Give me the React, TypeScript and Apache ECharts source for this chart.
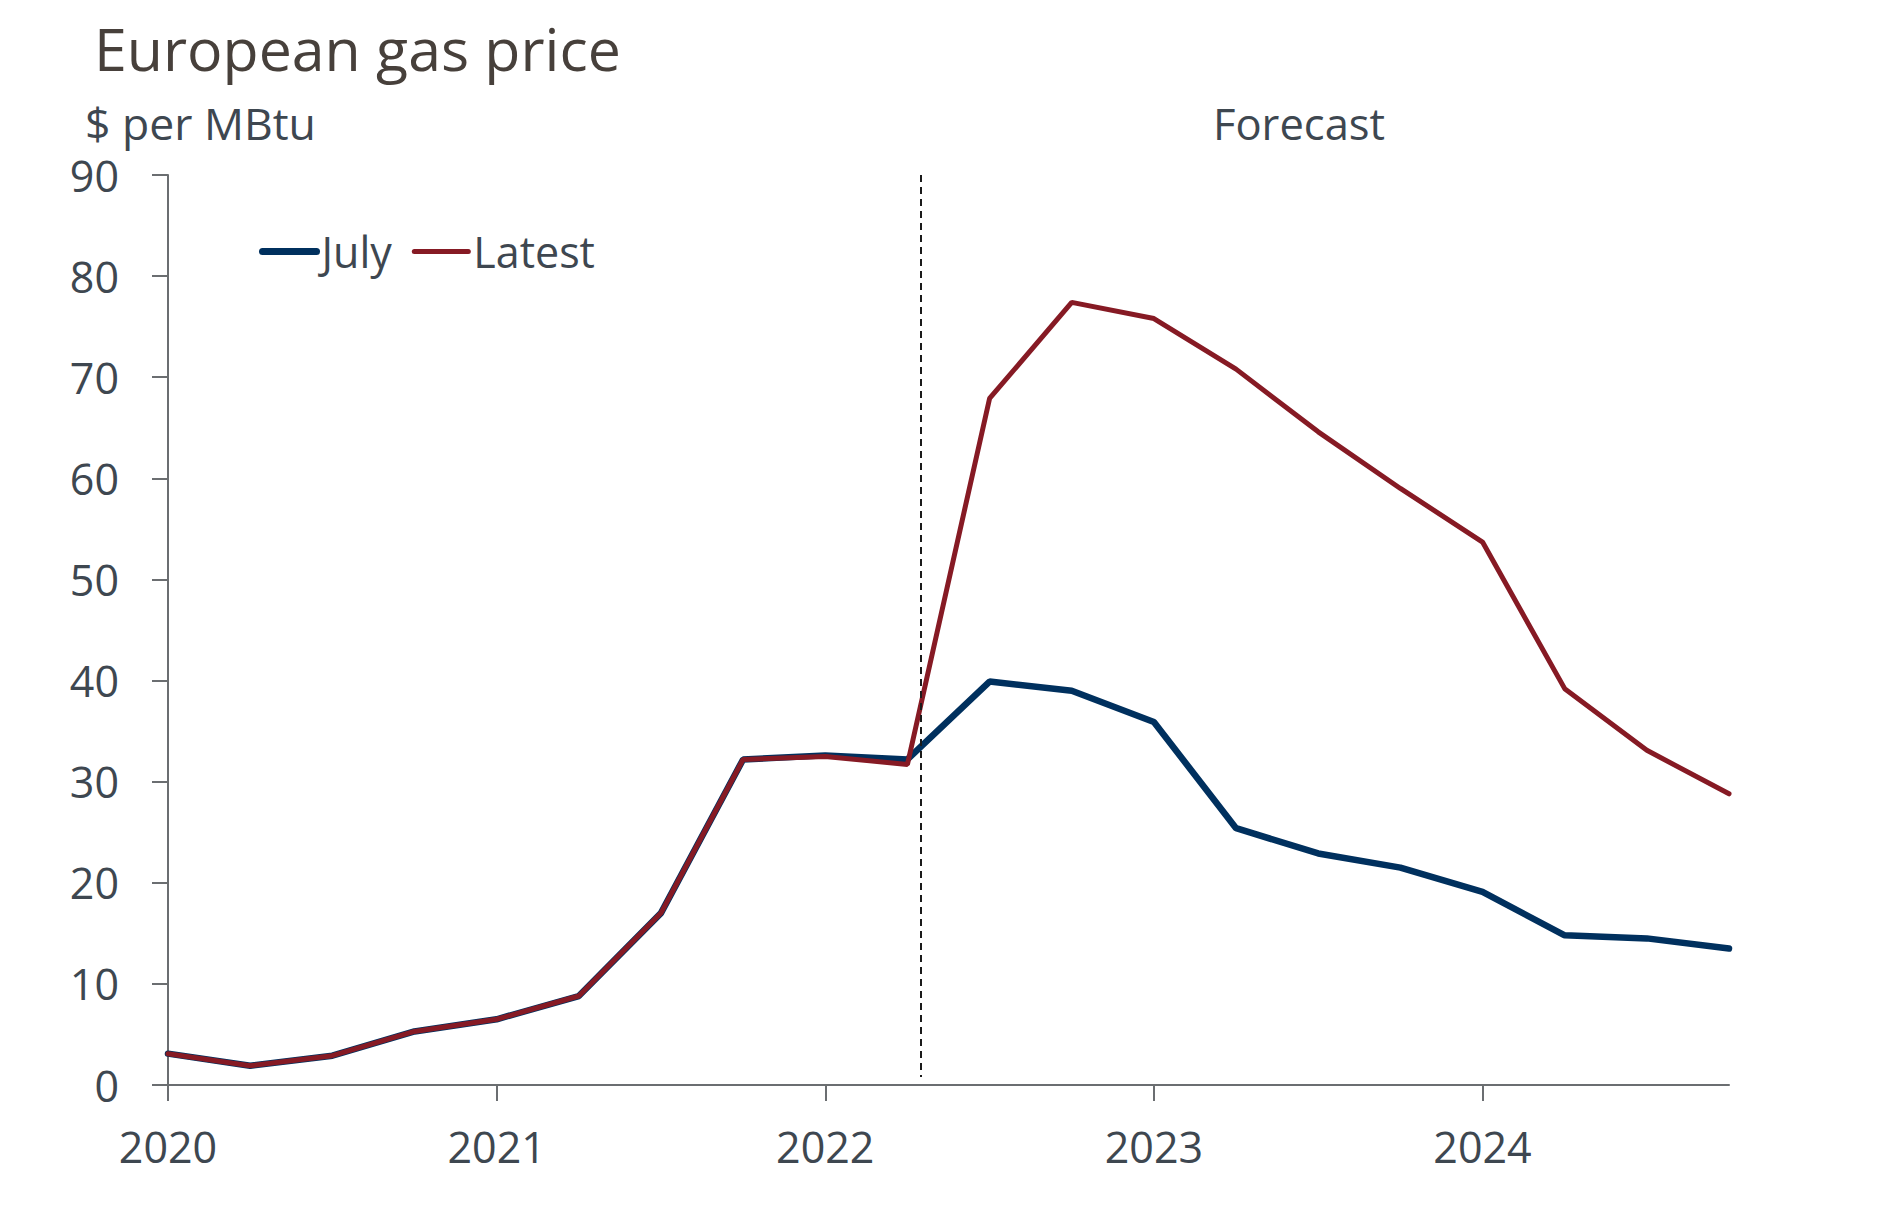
import React, { useEffect, useRef } from "react";
import * as echarts from "echarts";

const quarters = [
  "2020Q1", "2020Q2", "2020Q3", "2020Q4",
  "2021Q1", "2021Q2", "2021Q3", "2021Q4",
  "2022Q1", "2022Q2", "2022Q3", "2022Q4",
  "2023Q1", "2023Q2", "2023Q3", "2023Q4",
  "2024Q1", "2024Q2", "2024Q3", "2024Q4",
];
const july = [3.1, 1.9, 2.9, 5.3, 6.5, 8.8, 17.0, 32.2, 32.6, 32.2, 39.9, 39.0, 35.9, 25.4, 22.9, 21.5, 19.1, 14.8, 14.5, 13.5];
const latest = [3.1, 1.9, 2.9, 5.3, 6.5, 8.8, 17.0, 32.2, 32.5, 31.7, 67.9, 77.4, 75.8, 70.8, 64.6, 59.0, 53.7, 39.2, 33.1, 28.8];
const yearTicks = [2020, 2021, 2022, 2023, 2024];
const yTicks = [0, 10, 20, 30, 40, 50, 60, 70, 80, 90];
const forecastStart = 2022.29;

const toX = (q: string) => Number(q.slice(0, 4)) + (Number(q.slice(5)) - 1) / 4;

const FONT = "'Open Sans', 'Noto Sans', sans-serif";
const LABEL = "#3e4750";
const BLUE = "#00305e";
const RED = "#861a24";
const AXIS = "#6b6e71";

export default function App() {
  const ref = useRef<HTMLDivElement>(null);
  useEffect(() => {
    document.body.style.margin = "0";
    const chart = echarts.init(ref.current!, null, { renderer: "svg" });
    chart.setOption({
      animation: false,
      backgroundColor: "#ffffff",
      textStyle: { fontFamily: FONT },
      title: {
        text: "European gas price",
        left: 94,
        top: 18,
        padding: 0,
        textStyle: { fontFamily: FONT, fontSize: 59, fontWeight: "normal", color: "#47403b" },
      },
      legend: {
        data: [
          { name: "July", lineStyle: { width: 7, cap: "round", color: BLUE }, itemStyle: { opacity: 0 } },
          { name: "Latest", lineStyle: { width: 5, cap: "round", color: RED }, itemStyle: { opacity: 0 } },
        ],
        left: 259,
        top: 230,
        padding: 0,
        itemWidth: 54,
        itemHeight: 8,
        itemGap: 20,
        textStyle: { fontFamily: FONT, fontSize: 43, color: LABEL },
      },
      graphic: [
        {
          type: "text",
          left: 85,
          top: 100,
          style: { text: "$ per MBtu", font: `44.5px ${FONT}`, fill: LABEL },
        },
        {
          type: "text",
          left: 1213,
          top: 101,
          style: { text: "Forecast", font: `43.5px ${FONT}`, fill: LABEL },
        },
      ],
      grid: { left: 168, right: 149, top: 175, bottom: 145, containLabel: false },
      xAxis: {
        type: "value",
        min: 2020,
        max: 2024.75,
        interval: 1,
        splitLine: { show: false },
        axisLine: { show: true, lineStyle: { color: AXIS, width: 2 } },
        axisTick: { show: true, length: 16, customValues: yearTicks, lineStyle: { color: AXIS, width: 2 } },
        axisLabel: {
          customValues: yearTicks,
          margin: 40,
          fontFamily: FONT,
          fontSize: 43,
          color: LABEL,
          formatter: (v: number) => String(Math.round(v)),
        },
      },
      yAxis: {
        type: "value",
        min: 0,
        max: 90,
        interval: 10,
        splitLine: { show: false },
        axisLine: { show: true, lineStyle: { color: AXIS, width: 2 } },
        axisTick: { show: true, length: 16, lineStyle: { color: AXIS, width: 2 } },
        axisLabel: {
          customValues: yTicks,
          margin: 49,
          fontFamily: FONT,
          fontSize: 43,
          color: LABEL,
        },
      },
      series: [
        {
          name: "July",
          type: "line",
          symbol: "none",
          data: quarters.map((q, i) => [toX(q), july[i]]),
          lineStyle: { color: BLUE, width: 6.5, cap: "round" },
          itemStyle: { color: BLUE },
          z: 2,
        },
        {
          name: "Latest",
          type: "line",
          symbol: "none",
          data: quarters.map((q, i) => [toX(q), latest[i]]),
          lineStyle: { color: RED, width: 5, cap: "round" },
          itemStyle: { color: RED },
          z: 3,
          markLine: {
            silent: true,
            symbol: "none",
            label: { show: false },
            lineStyle: { color: "#1a1a1a", width: 2, type: [7, 5] },
            data: [[{ coord: [forecastStart, 90] }, { coord: [forecastStart, 0.8] }]],
          },
        },
      ],
    });
    return () => chart.dispose();
  }, []);
  return <div ref={ref} style={{ width: 1878, height: 1230 }} />;
}
